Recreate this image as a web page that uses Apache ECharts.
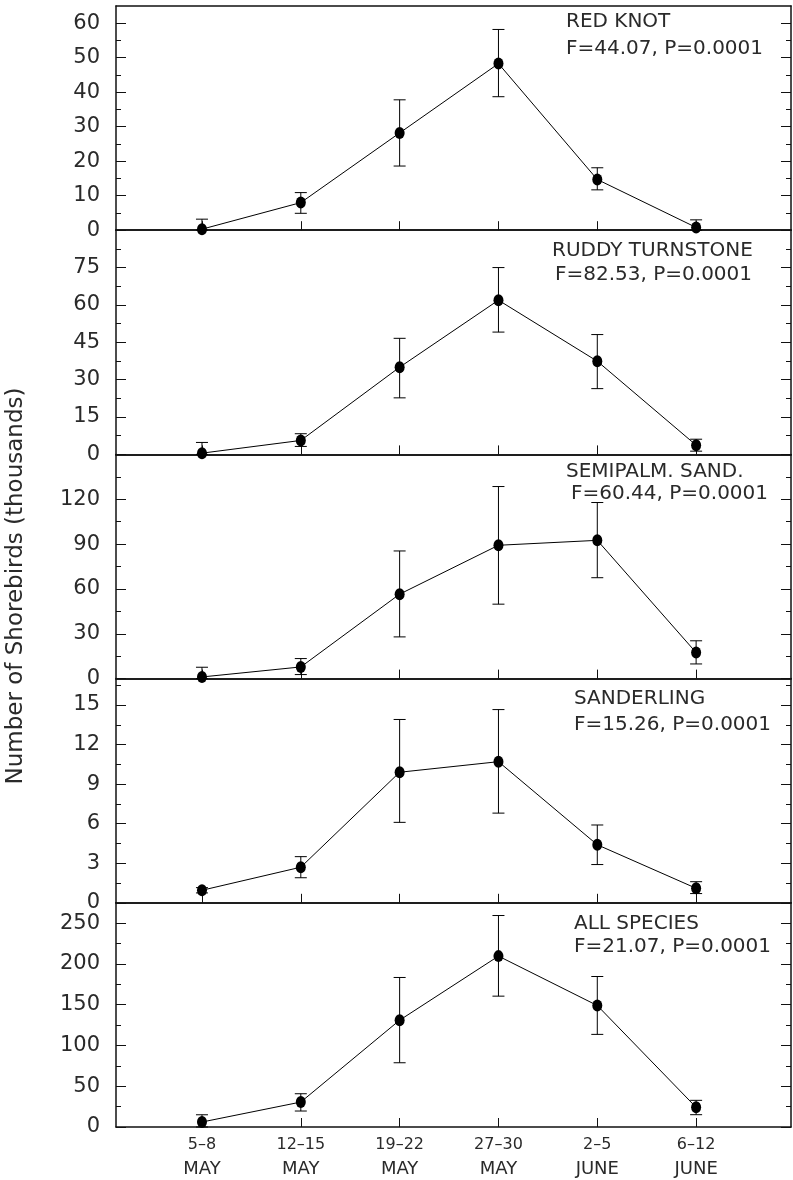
<!DOCTYPE html>
<html>
<head>
<meta charset="utf-8">
<script src="https://cdn.jsdelivr.net/npm/echarts@6/dist/echarts.min.js"></script>
<style>
html,body{margin:0;padding:0;background:#fff;}
#chart{width:793px;height:1180px;}
</style>
</head>
<body>
<div id="chart"></div>
<script>
// ---- data ----
const periods = ['5\u20138', '12\u201315', '19\u201322', '27\u201330', '2\u20135', '6\u201312'];
const months = ['MAY', 'MAY', 'MAY', 'MAY', 'JUNE', 'JUNE'];

const species = ['RED KNOT', 'RUDDY TURNSTONE', 'SEMIPALM. SAND.', 'SANDERLING', 'ALL SPECIES'];
const stats = ['F=44.07, P=0.0001', 'F=82.53, P=0.0001', 'F=60.44, P=0.0001', 'F=15.26, P=0.0001', 'F=21.07, P=0.0001'];

const redKnot     = [0.3, 8.0, 28.2, 48.3, 14.7, 0.8];
const redKnotLow  = [0, 4.9, 18.6, 38.7, 11.7, 0];
const redKnotHigh = [3.2, 10.9, 37.8, 58.2, 18.1, 3.0];

const ruddy     = [0.5, 5.6, 35.0, 61.9, 37.4, 3.7];
const ruddyLow  = [0, 3.2, 22.7, 49.1, 26.4, 1.3];
const ruddyHigh = [4.8, 8.3, 46.6, 75.0, 48.1, 6.1];

const semipalm     = [1.1, 7.8, 56.5, 89.2, 92.5, 17.4];
const semipalmLow  = [0, 2.7, 27.9, 49.8, 67.5, 9.8];
const semipalmHigh = [7.6, 13.4, 85.4, 128.5, 117.8, 25.3];

const sanderling     = [0.95, 2.7, 9.9, 10.7, 4.4, 1.1];
const sanderlingLow  = [0.75, 1.9, 6.1, 6.8, 2.9, 0.7];
const sanderlingHigh = [1.15, 3.5, 13.9, 14.65, 5.9, 1.6];

const allSpecies     = [6.1, 30.6, 131, 209.6, 149, 24.1];
const allSpeciesLow  = [0, 19.6, 78.8, 160.5, 113.6, 15.1];
const allSpeciesHigh = [15, 40.8, 183.4, 259.4, 184.6, 32.7];

const yMax = [65, 90, 150, 17, 275];
const yTicks1 = [0, 10, 20, 30, 40, 50, 60];
const yTicks2 = [0, 15, 30, 45, 60, 75];
const yTicks3 = [0, 30, 60, 90, 120];
const yTicks4 = [0, 3, 6, 9, 12, 15];
const yTicks5 = [0, 50, 100, 150, 200, 250];

// ---- layout ----
const means = [redKnot, ruddy, semipalm, sanderling, allSpecies];
const lows = [redKnotLow, ruddyLow, semipalmLow, sanderlingLow, allSpeciesLow];
const highs = [redKnotHigh, ruddyHigh, semipalmHigh, sanderlingHigh, allSpeciesHigh];
const ticks = [yTicks1, yTicks2, yTicks3, yTicks4, yTicks5];

const FONT = 'DejaVu Sans';
const TXT = '#2a2a2a';
const LINE = '#111';
const gridTop = 6, gridH = 224.2, gridLeft = 116, gridRight = 2;
const xIdx = periods.map((_, i) => i + 1);

function minorOf(t, max) {
  const step = t[1] - t[0];
  const out = [];
  for (let v = step / 2; v < max - 1e-6; v += step) out.push(v);
  return out;
}

const grids = [], xAxes = [], yAxes = [], series = [], graphics = [];
for (let p = 0; p < 5; p++) {
  grids.push({left: gridLeft, right: gridRight, top: gridTop + p * gridH, height: gridH});
  const isLast = p === 4;
  // bottom axis
  xAxes.push({
    type: 'value', gridIndex: p, min: 0.13, max: 6.96, position: 'bottom',
    axisLine: {show: true, onZero: false, lineStyle: {color: LINE, width: 1.5}},
    axisTick: {show: true, inside: true, length: 9, customValues: xIdx, lineStyle: {color: LINE, width: 1}},
    splitLine: {show: false},
    axisLabel: isLast ? {
      show: true, customValues: xIdx, margin: 6,
      formatter: v => '{a|' + periods[v - 1] + '}\n{b|' + months[v - 1] + '}',
      rich: {
        a: {fontSize: 16, lineHeight: 24, fontFamily: FONT, color: TXT},
        b: {fontSize: 18, lineHeight: 24, fontFamily: FONT, color: TXT}
      }
    } : {show: false}
  });
  // top border
  xAxes.push({
    type: 'value', gridIndex: p, min: 0.13, max: 6.96, position: 'top',
    axisLine: {show: true, onZero: false, lineStyle: {color: LINE, width: 1.5}},
    axisTick: {show: false}, axisLabel: {show: false}, splitLine: {show: false}
  });
  const minors = minorOf(ticks[p], yMax[p]);
  const base = {type: 'value', gridIndex: p, min: 0, max: yMax[p], splitLine: {show: false}};
  // left major
  yAxes.push(Object.assign({}, base, {
    position: 'left',
    axisLine: {show: true, onZero: false, lineStyle: {color: LINE, width: 1.5}},
    axisTick: {show: true, inside: true, length: 10, customValues: ticks[p], lineStyle: {color: LINE, width: 1}},
    axisLabel: {show: true, customValues: ticks[p], margin: 16, fontSize: 21, fontFamily: FONT, color: TXT}
  }));
  // left minor
  yAxes.push(Object.assign({}, base, {
    position: 'left',
    axisLine: {show: false},
    axisTick: {show: true, inside: true, length: 5, customValues: minors, lineStyle: {color: LINE, width: 1}},
    axisLabel: {show: false}
  }));
  // right major
  yAxes.push(Object.assign({}, base, {
    position: 'right',
    axisLine: {show: true, onZero: false, lineStyle: {color: LINE, width: 1.5}},
    axisTick: {show: true, inside: true, length: 10, customValues: ticks[p], lineStyle: {color: LINE, width: 1}},
    axisLabel: {show: false}
  }));
  // right minor
  yAxes.push(Object.assign({}, base, {
    position: 'right',
    axisLine: {show: false},
    axisTick: {show: true, inside: true, length: 5, customValues: minors, lineStyle: {color: LINE, width: 1}},
    axisLabel: {show: false}
  }));

  const yi = p * 4, xi = p * 2;
  series.push({
    type: 'custom', xAxisIndex: xi, yAxisIndex: yi, z: 2,
    data: means[p].map((_, i) => [i + 1, lows[p][i], highs[p][i]]),
    encode: {x: 0, y: [1, 2]},
    renderItem: function (params, api) {
      const x = api.value(0);
      const top = api.coord([x, api.value(2)]);
      const bot = api.coord([x, api.value(1)]);
      const w = 6;
      const st = {stroke: '#000', lineWidth: 1};
      return {type: 'group', children: [
        {type: 'line', shape: {x1: top[0], y1: top[1], x2: bot[0], y2: bot[1]}, style: st},
        {type: 'line', shape: {x1: top[0] - w, y1: top[1], x2: top[0] + w, y2: top[1]}, style: st},
        {type: 'line', shape: {x1: bot[0] - w, y1: bot[1], x2: bot[0] + w, y2: bot[1]}, style: st}
      ]};
    }
  });
  series.push({
    type: 'line', xAxisIndex: xi, yAxisIndex: yi, z: 3,
    data: means[p].map((v, i) => [i + 1, v]),
    symbol: 'circle', symbolSize: [10, 12], showSymbol: true,
    itemStyle: {color: '#000'},
    lineStyle: {color: '#000', width: 1},
    animation: false
  });
}

const titlePos = [
  {x: 566, y1: 22, x2: 566, y2: 49},
  {x: 552, y1: 251, x2: 555, y2: 275},
  {x: 566, y1: 472, x2: 571, y2: 494},
  {x: 574, y1: 699, x2: 574, y2: 725},
  {x: 574, y1: 924, x2: 574, y2: 947}
];
titlePos.forEach((t, p) => {
  graphics.push({type: 'text', x: t.x, y: t.y1, style: {text: species[p], font: '20px "DejaVu Sans"', fill: TXT, textVerticalAlign: 'middle'}});
  graphics.push({type: 'text', x: t.x2, y: t.y2, style: {text: stats[p], font: '20px "DejaVu Sans"', fill: TXT, textVerticalAlign: 'middle'}});
});
graphics.push({
  type: 'text', x: 16, y: 586, rotation: Math.PI / 2,
  style: {text: 'Number of Shorebirds (thousands)', font: '23px "DejaVu Sans"', fill: TXT, textAlign: 'center', textVerticalAlign: 'middle'}
});

const chart = echarts.init(document.getElementById('chart'), null, {renderer: 'canvas'});
chart.setOption({
  animation: false,
  backgroundColor: '#fff',
  grid: grids,
  xAxis: xAxes,
  yAxis: yAxes,
  series: series,
  graphic: graphics
});
</script>
</body>
</html>
